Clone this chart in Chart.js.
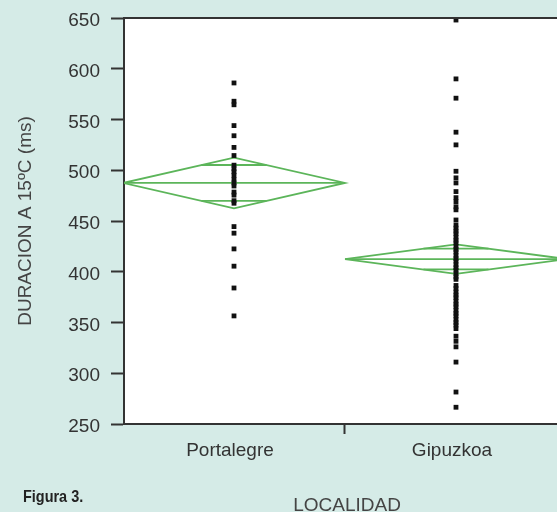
<!DOCTYPE html>
<html><head><meta charset="utf-8">
<script src="https://cdn.jsdelivr.net/npm/chart.js@4.4.1/dist/chart.umd.min.js"></script>
<style>html,body{margin:0;padding:0;background:#d5ebe7;overflow:hidden}canvas{display:block}</style>
</head><body>
<canvas id="c" width="557" height="512"></canvas>
<script>
// ---- data ----
const categories = ['Portalegre', 'Gipuzkoa'];
const portalegreValues = [586, 568, 564.5, 544, 534, 522.5, 514.5, 505, 501.5, 498.5, 495, 491,
  487.5, 484.5, 478.5, 475.5, 470, 467.5, 444.5, 438, 422.5, 405.5, 384, 356.5];
const gipuzkoaValues = [648, 590, 571, 537.5, 525, 499, 492.5, 487.5, 479, 473, 469, 464, 461,
  451, 446, 443, 440, 437.5, 434, 431, 428.5, 425, 422, 419.5, 416, 413, 410.5, 407, 404, 401.5,
  398, 395, 392.5, 386.5, 383.5, 380, 377, 374.5, 371, 368, 365.5, 362, 359, 356.5, 353, 350,
  347.5, 344, 336.5, 331.5, 326, 311, 281.5, 266.5];
const groupMeans = [487.5, 412.5];
const groupCI = [25, 14.5];
const yMin = 250, yMax = 650, yStep = 50;
const xAxisTitle = 'LOCALIDAD';
const yAxisTitle = 'DURACION A 15ºC (ms)';
const figureCaption = 'Figura 3.';

// ---- styles ----
const GREEN = '#5cb55a';
const AXIS = '#333333';
const HALF_W = 0.5;

Chart.defaults.font.family = "'Liberation Sans', Arial, Helvetica, sans-serif";

const groupValues = [portalegreValues, gipuzkoaValues];
const datasets = [];
groupValues.forEach((vals, i) => {
  datasets.push({
    label: categories[i],
    data: vals.map(v => ({x: i + 1, y: v})),
    pointStyle: 'rect', pointRadius: 3.4, pointHoverRadius: 3.4,
    backgroundColor: '#111', borderColor: '#111', borderWidth: 0, showLine: false
  });
});
groupMeans.forEach((m, i) => {
  const c = i + 1, ci = groupCI[i], ov = ci / Math.SQRT2, ow = HALF_W * (1 - 1 / Math.SQRT2);
  const lineDs = (pts) => ({
    data: pts, showLine: true, pointRadius: 0, pointHoverRadius: 0,
    borderColor: GREEN, borderWidth: 1.8, fill: false, tension: 0
  });
  datasets.push(lineDs([{x: c - HALF_W, y: m}, {x: c, y: m + ci}, {x: c + HALF_W, y: m}, {x: c, y: m - ci}, {x: c - HALF_W, y: m}]));
  datasets.push(lineDs([{x: c - HALF_W, y: m}, {x: c + HALF_W, y: m}]));
  datasets.push(lineDs([{x: c - ow, y: m + ov}, {x: c + ow, y: m + ov}]));
  datasets.push(lineDs([{x: c - ow, y: m - ov}, {x: c + ow, y: m - ov}]));
});

const deco = {
  id: 'deco',
  beforeDraw(chart) {
    const {ctx, chartArea: a} = chart;
    ctx.save();
    ctx.fillStyle = '#d5ebe7';
    ctx.fillRect(0, 0, chart.width, chart.height);
    ctx.fillStyle = '#ffffff';
    ctx.fillRect(a.left, a.top, a.right - a.left, a.bottom - a.top);
    ctx.restore();
  },
  afterDraw(chart) {
    const {ctx, chartArea: a} = chart;
    ctx.save();
    ctx.strokeStyle = AXIS; ctx.lineWidth = 2;
    ctx.beginPath(); ctx.moveTo(a.left, a.top); ctx.lineTo(a.right, a.top); ctx.stroke();
    ctx.fillStyle = '#444';
    ctx.font = "19px 'Liberation Sans', Arial, sans-serif";
    ctx.textAlign = 'center'; ctx.textBaseline = 'alphabetic';
    ctx.fillText(xAxisTitle, 347, 511);
    ctx.fillStyle = '#222';
    ctx.font = "bold 17px 'Liberation Sans', Arial, sans-serif";
    ctx.textAlign = 'left';
    ctx.translate(23, 502);
    ctx.scale(0.85, 1);
    ctx.fillText(figureCaption, 0, 0);
    ctx.restore();
  }
};

new Chart(document.getElementById('c'), {
  type: 'scatter',
  data: {datasets},
  options: {
    responsive: false, animation: false, devicePixelRatio: 1,
    layout: {autoPadding: false, padding: {top: 18, left: 0, right: 0, bottom: 0}},
    plugins: {legend: {display: false}, tooltip: {enabled: false}},
    scales: {
      x: {
        type: 'linear', min: 0.5045, max: 2.455,
        afterBuildTicks: s => { s.ticks = [{value: 1}, {value: 1.5}, {value: 2}]; },
        afterFit: s => { s.height = 88; s.paddingLeft = 0; s.paddingRight = 0; },
        ticks: {
          callback: v => (v === 1 ? categories[0] : v === 2 ? categories[1] : ''),
          font: {size: 19}, color: '#333', padding: 5, labelOffset: -4,
          maxRotation: 0, autoSkip: false
        },
        grid: {
          drawOnChartArea: false, drawTicks: true, tickLength: 10, tickWidth: 2,
          tickColor: c => (c.tick && c.tick.value === 1.5 ? AXIS : 'rgba(0,0,0,0)')
        },
        border: {display: true, color: AXIS, width: 2}
      },
      y: {
        min: yMin, max: yMax,
        afterFit: s => { s.width = 124; s.paddingTop = 0; s.paddingBottom = 0; },
        ticks: {stepSize: yStep, font: {size: 19}, color: '#333', padding: 11, labelOffset: 3},
        grid: {drawOnChartArea: false, tickLength: 13, tickWidth: 2, tickColor: AXIS},
        border: {display: true, color: AXIS, width: 2},
        title: {display: true, text: yAxisTitle, font: {size: 19}, color: '#444', padding: {top: 14, bottom: 0}}
      }
    }
  },
  plugins: [deco]
});
</script>
</body></html>
